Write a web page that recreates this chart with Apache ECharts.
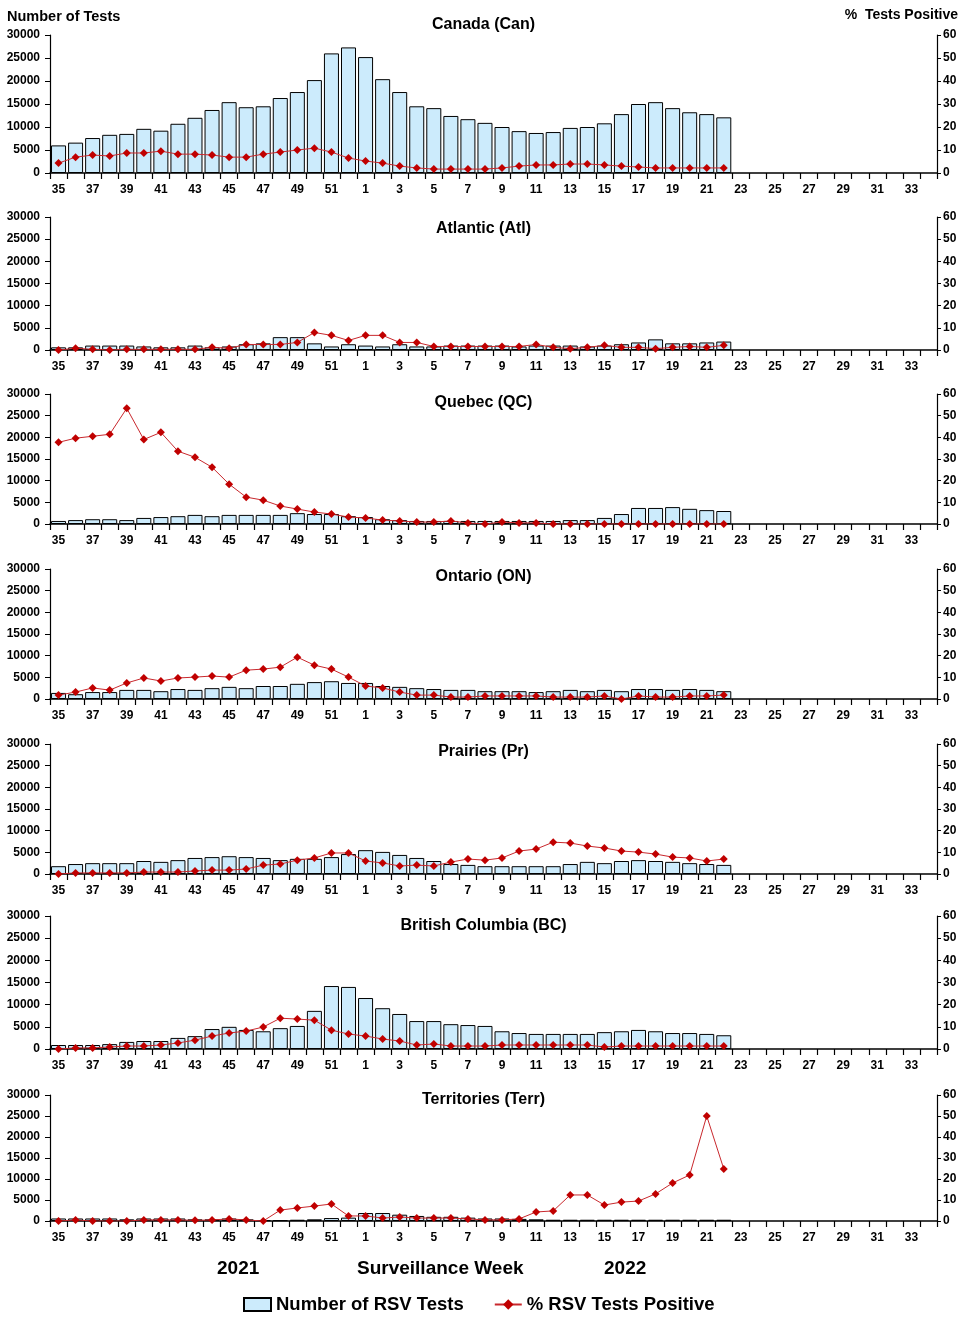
<!DOCTYPE html>
<html>
<head>
<meta charset="utf-8">
<script src="https://cdn.jsdelivr.net/npm/echarts@6/dist/echarts.min.js"></script>
<style>
html,body{margin:0;padding:0;background:#fff;}
#chart{width:967px;height:1321px;}
</style>
</head>
<body>
<div id="chart"></div>
<script>
// Surveillance weeks (2021 weeks 35-52, 2022 weeks 1-34)
const weeks = ["35","36","37","38","39","40","41","42","43","44","45","46","47","48","49","50","51","52",
  "1","2","3","4","5","6","7","8","9","10","11","12","13","14","15","16","17","18","19","20","21","22",
  "23","24","25","26","27","28","29","30","31","32","33","34"];

const panelTitles = ["Canada (Can)","Atlantic (Atl)","Quebec (QC)","Ontario (ON)","Prairies (Pr)","British Columbia (BC)","Territories (Terr)"];

const canTests = [6000,6600,7600,8300,8500,9600,9200,10700,12000,13700,15400,14300,14500,16300,17600,20200,26000,27300,
  25200,20400,17600,14500,14100,12400,11700,10900,10000,9100,8700,8900,9800,10000,10800,12800,15000,15400,14100,13200,12800,12100];
const canPos = [4.3,6.9,7.8,7.4,8.7,8.7,9.5,8.2,8.2,7.8,6.9,6.9,8.2,9.1,10.0,10.8,9.1,6.5,
  5.2,4.3,3.0,2.2,1.7,1.7,1.7,1.7,2.2,3.0,3.5,3.5,3.9,3.9,3.5,3.0,2.6,2.2,2.2,2.2,2.2,2.2];

const atlTests = [600,600,1000,1000,1000,800,600,600,1000,600,800,1300,1500,2900,2900,1500,800,1300,
  1000,800,1300,800,800,1000,1000,1000,1000,800,1000,1000,1000,800,1000,1300,1700,2400,1500,1500,1700,1900];
const atlPos = [0,0.8,0.3,0,0.3,0.3,0.3,0.3,0.3,1.2,0.8,2.5,2.5,2.5,3.4,7.9,6.6,4.3,
  6.6,6.6,3.4,3.4,1.6,1.6,1.6,1.6,1.6,1.6,2.5,1.2,0.6,1.2,2.1,1.2,1.2,0.6,1.2,1.6,1.2,2.1];

const qcTests = [700,900,1100,1100,900,1400,1600,1800,2100,1800,2100,2100,2100,2100,2500,2300,2300,1800,
  1600,1100,900,700,700,700,700,700,700,700,700,700,900,900,1400,2300,3700,3700,3900,3500,3200,3000];
const qcPos = [37.7,39.6,40.5,41.4,53.4,39.0,42.3,33.6,30.8,26.2,18.4,12.4,11.0,8.3,6.9,5.5,4.6,3.2,
  2.8,1.8,1.4,0.9,0.9,1.4,0.5,0,0.9,0.5,0.5,0,0,0,0,0,0,0,0,0,0,0];

const onTests = [1400,1100,1600,1600,2100,2100,1800,2300,2100,2500,2800,2500,3000,3000,3500,3900,4100,3700,
  3700,3000,2800,2500,2300,2100,2100,1800,1800,1800,1600,1800,2100,1800,2100,1800,2300,2300,2100,2300,2100,1800];
const onPos = [1.8,3.2,5.1,4.1,7.4,9.7,8.3,9.7,10.1,10.6,10.1,13.3,13.8,14.7,19.3,15.6,13.8,10.1,
  6.0,5.1,3.2,1.8,1.8,0.9,0.9,1.4,1.4,1.4,1.4,0.9,0.9,0.9,1.4,0,1.4,0.9,0.9,1.4,1.4,1.8];

const prTests = [1800,2300,2500,2500,2500,3000,2800,3200,3700,3900,4100,3900,3700,3200,3500,3500,3900,4600,
  5500,5100,4400,3700,3000,2300,2100,1800,1800,1800,1800,1800,2300,2800,2500,3000,3200,3000,2800,2500,2300,2100];
const prPos = [0,0.5,0.5,0.5,0.5,0.9,0.9,0.9,1.4,1.8,1.8,2.3,4.1,4.6,6.4,7.4,9.7,9.7,
  6.0,5.1,3.7,4.1,3.7,5.5,6.9,6.4,7.4,10.6,11.5,14.7,14.3,12.9,12.0,10.6,10.1,9.2,7.8,7.4,6.0,6.9];

const bcTests = [900,900,900,1100,1600,1800,1800,2500,2900,4500,5000,4300,4000,4700,5200,8600,14200,14000,
  11500,9200,7900,6300,6300,5600,5400,5200,4000,3600,3400,3400,3400,3400,3800,4000,4300,4000,3600,3600,3400,3100];
const bcPos = [0,0.5,0.5,0.9,1.35,1.35,1.8,2.7,4.0,5.85,7.2,8.1,9.9,13.9,13.5,13.0,8.5,6.75,
  5.85,4.5,3.6,1.8,2.25,1.35,1.35,1.35,1.8,1.8,1.8,1.8,1.8,1.8,0.9,1.35,1.35,1.35,1.35,1.35,1.35,1.35];

const terrTests = [600,600,600,600,400,600,600,600,400,400,600,400,200,200,300,400,700,800,
  1900,1900,1500,1200,1000,1000,800,600,600,500,400,300,300,300,300,300,300,300,300,300,300,300];
const terrPos = [0,0.5,0,0,0,0.5,0.5,0.5,0.3,0.5,1.0,0.5,0,5.2,6.2,7.1,8.1,2.4,
  2.4,1.4,1.9,1.4,1.4,1.4,1.0,0.5,0.5,1.0,4.3,4.8,12.4,12.4,7.6,9.0,9.5,12.9,18.1,21.9,50,24.8];

const testsTicks = {min:0, max:30000, interval:5000};
const posTicks = {min:0, max:60, interval:10};

const testsByPanel = [canTests, atlTests, qcTests, onTests, prTests, bcTests, terrTests];
const posByPanel = [canPos, atlPos, qcPos, onPos, prPos, bcPos, terrPos];

// layout (pixels)
const gridTops = [35, 217, 394, 569, 744, 916, 1095];
const gridHeights = [138, 133, 130, 130, 130, 133, 126];
const titleTops = [12, 216, 390, 564, 739, 913, 1087];

const FONT = "'Liberation Sans', Arial, Helvetica, sans-serif";
const chart = echarts.init(document.getElementById('chart'), null, {renderer:'canvas'});
const plain = v => String(v);

const grids = [], xAxes = [], yAxes = [], series = [], titles = [];
panelTitles.forEach((t, i) => {
  grids.push({left:50, right:30, top:gridTops[i], height:gridHeights[i], containLabel:false});
  titles.push({text:t, left:'center', top:titleTops[i], textStyle:{fontFamily:FONT, fontSize:16, fontWeight:'bold', color:'#000'}});
  xAxes.push({
    type:'category', gridIndex:i, data:weeks, boundaryGap:true,
    axisLine:{show:true, lineStyle:{color:'#000', width:1.5}},
    axisTick:{show:true, interval:0, length:6, inside:false, lineStyle:{color:'#000', width:1.2}},
    axisLabel:{interval:1, margin:11, fontFamily:FONT, fontSize:12, fontWeight:'bold', color:'#000'},
    splitLine:{show:false}
  });
  yAxes.push({
    type:'value', gridIndex:i, position:'left', min:testsTicks.min, max:testsTicks.max, interval:testsTicks.interval,
    axisLine:{show:true, lineStyle:{color:'#000', width:1.2}},
    axisTick:{show:true, length:5, lineStyle:{color:'#000'}},
    axisLabel:{margin:10, formatter:plain, fontFamily:FONT, fontSize:12, fontWeight:'bold', color:'#000'},
    splitLine:{show:false}
  });
  yAxes.push({
    type:'value', gridIndex:i, position:'right', min:posTicks.min, max:posTicks.max, interval:posTicks.interval,
    axisLine:{show:true, lineStyle:{color:'#000', width:1.2}},
    axisTick:{show:true, length:4, lineStyle:{color:'#000'}},
    axisLabel:{margin:6, formatter:plain, fontFamily:FONT, fontSize:12, fontWeight:'bold', color:'#000'},
    splitLine:{show:false}
  });
  series.push({
    name:'Number of RSV Tests', type:'bar', xAxisIndex:i, yAxisIndex:2*i,
    data:testsByPanel[i], barCategoryGap:'12%',
    itemStyle:{color:'#ccebfc', borderColor:'#000', borderWidth:1}
  });
  series.push({
    name:'% RSV Tests Positive', type:'line', xAxisIndex:i, yAxisIndex:2*i+1,
    data:posByPanel[i], symbol:'diamond', symbolSize:8,
    itemStyle:{color:'#c00000'}, lineStyle:{color:'#c8282d', width:1}, z:5
  });
});

chart.setOption({
  animation:false,
  backgroundColor:'#fff',
  title:titles,
  grid:grids,
  xAxis:xAxes,
  yAxis:yAxes,
  series:series,
  legend:{
    data:[{name:'Number of RSV Tests', icon:'rect'},{name:'% RSV Tests Positive'}],
    left:238, top:1290, itemWidth:27, itemHeight:13, itemGap:30,
    textStyle:{fontFamily:FONT, fontSize:18.5, fontWeight:'bold', color:'#000'}
  },
  graphic:[
    {type:'text', left:7, top:9, style:{text:'Number of Tests', font:"bold 14.5px "+FONT, fill:'#000'}},
    {type:'text', right:9, top:8, style:{text:'%  Tests Positive', font:"bold 14px "+FONT, fill:'#000'}},
    {type:'text', left:217, top:1259, style:{text:'2021', font:"bold 19px "+FONT, fill:'#000'}},
    {type:'text', left:357, top:1259, style:{text:'Surveillance Week', font:"bold 19px "+FONT, fill:'#000'}},
    {type:'text', left:604, top:1259, style:{text:'2022', font:"bold 19px "+FONT, fill:'#000'}}
  ]
});
</script>
</body>
</html>
